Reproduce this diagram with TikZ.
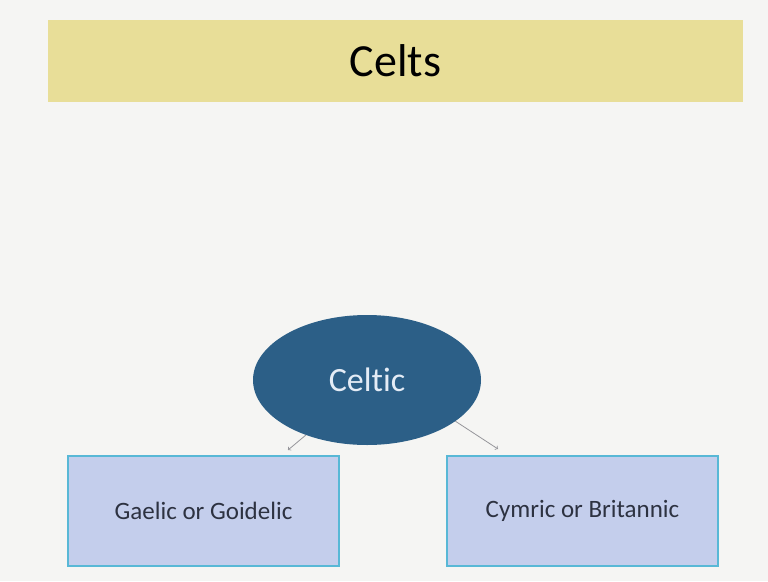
\documentclass[tikz,border=0pt]{standalone}
\usepackage{fontspec}
\setmainfont{Carlito}[Ligatures=CommonOff]
\usetikzlibrary{shapes.geometric}
\definecolor{slidebg}{RGB}{245,245,243}
\definecolor{titlefill}{RGB}{232,222,152}
\definecolor{ovalfill}{RGB}{44,95,135}
\definecolor{boxfill}{RGB}{196,206,236}
\definecolor{boxline}{RGB}{88,184,214}
\begin{document}
\begin{tikzpicture}[x=1pt, y=-1pt,
    titlebar/.style={fill=titlefill, minimum width=695pt, minimum height=82pt,
        inner sep=0pt, font=\fontsize{46}{50}\selectfont},
    oval/.style={ellipse, fill=ovalfill, minimum width=228pt, minimum height=130pt,
        inner sep=0pt, text={rgb,255:red,228;green,236;blue,246},
        font=\fontsize{34}{38}\selectfont},
    branch/.style={draw=boxline, line width=1.5pt, fill=boxfill,
        minimum width=271pt, minimum height=110pt, inner sep=0pt,
        text={rgb,255:red,45;green,50;blue,65}, font=\fontsize{25}{29}\selectfont},
    link/.style={->, draw={rgb,255:red,150;green,150;blue,155}, line width=0.8pt}]
    \fill[slidebg] (0,0) rectangle (768,581);
    \useasboundingbox (0,0) rectangle (768,581);
    \node[titlebar] (title) at (395.5,61) {Celts};
    \node[oval] (celtic) at (367,380) {Celtic};
    \node[branch] (gaelic) at (203.5,511) {Gaelic or Goidelic};
    \node[branch] (cymric) at (582.5,511) {Cymric or Britannic};
    \coordinate (gtip) at (288,450);
    \coordinate (ctip) at (498,449);
    \draw[link] (celtic.222) -- (gtip);
    \draw[link] (celtic.335) -- (ctip);
\end{tikzpicture}
\end{document}
